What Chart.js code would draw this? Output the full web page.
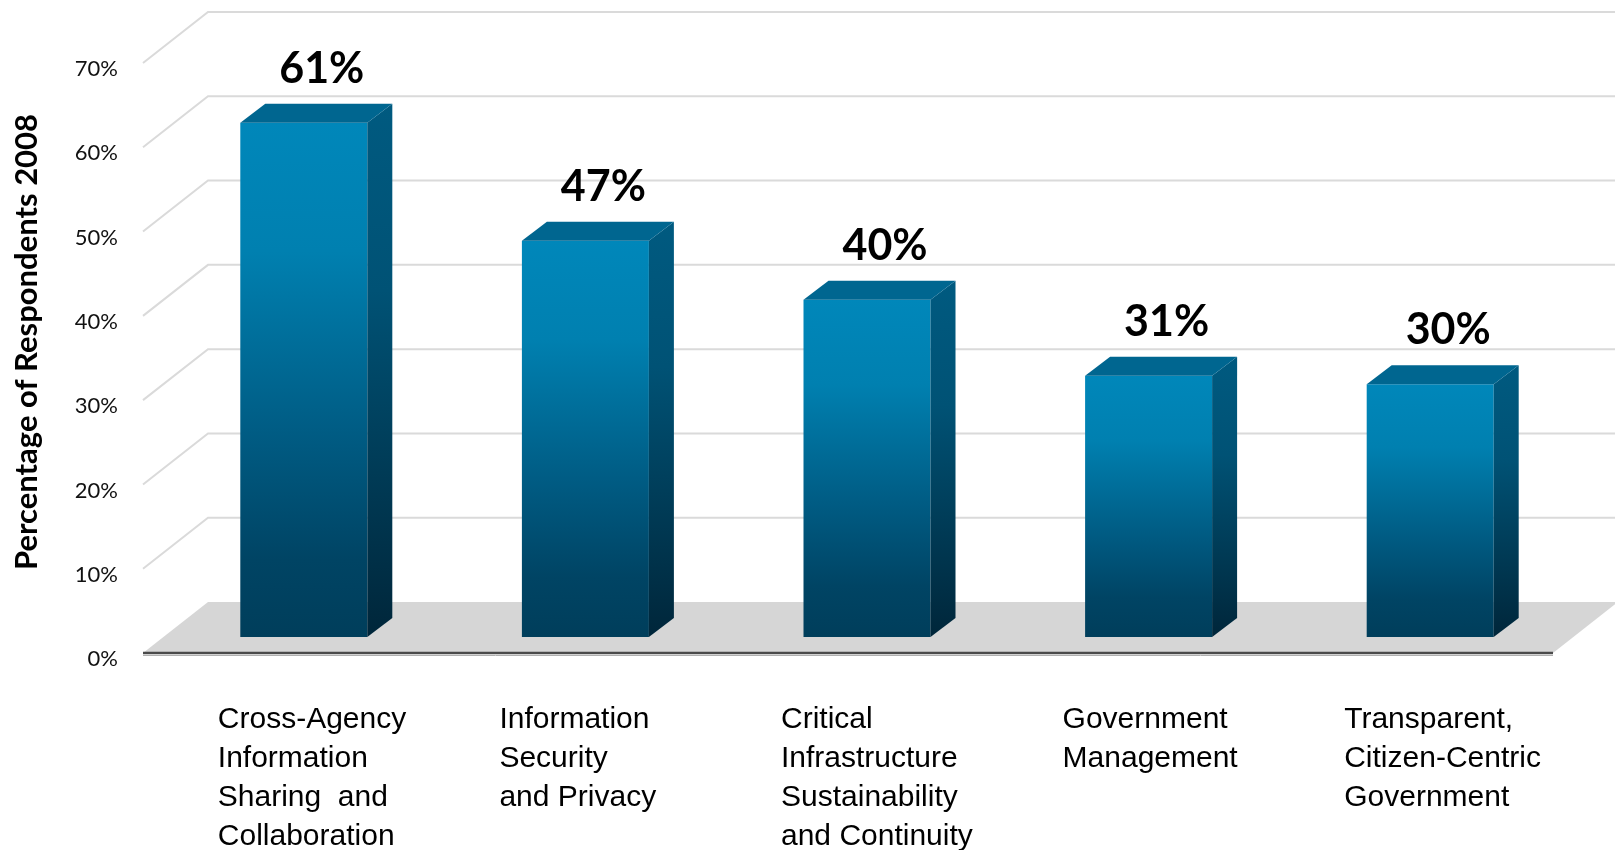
<!DOCTYPE html>
<html><head><meta charset="utf-8">
<script src="https://cdn.jsdelivr.net/npm/chart.js@4.4.1/dist/chart.umd.min.js"></script>
<style>html,body{margin:0;padding:0;background:#fff;}canvas{display:block;}</style>
</head><body>
<canvas id="c" width="1615" height="850"></canvas>
<script>
const categories = [
  ["Cross-Agency", "Information", "Sharing  and", "Collaboration"],
  ["Information", "Security", "and Privacy"],
  ["Critical", "Infrastructure", "Sustainability", "and Continuity"],
  ["Government", "Management"],
  ["Transparent,", "Citizen-Centric", "Government"]
];
const values = [61, 47, 40, 31, 30];
const yTicks = [0, 10, 20, 30, 40, 50, 60, 70];
const yTitle = "Percentage of Respondents 2008";

// 3D geometry offsets (pixels)
const FRONT = {dx: -20, dy: 16};
const BACK = {dx: 45, dy: -35};
const BAR_D = {dx: 25, dy: -19};

function frontGrad(c, top, base) {
  const g = c.createLinearGradient(0, top, 0, base);
  g.addColorStop(0, '#0087ba');
  g.addColorStop(0.25, '#0080b0');
  g.addColorStop(0.6, '#005c84');
  g.addColorStop(0.85, '#004464');
  g.addColorStop(1, '#003e5b');
  return g;
}
function sideGrad(c, top, base) {
  const g = c.createLinearGradient(0, top, 0, base);
  g.addColorStop(0, '#005a80');
  g.addColorStop(0.35, '#005275');
  g.addColorStop(1, '#00263a');
  return g;
}

const scene3d = {
  id: 'scene3d',
  beforeDatasetsDraw(chart) {
    const c = chart.ctx, a = chart.chartArea, ys = chart.scales.y;
    const y0 = ys.getPixelForValue(0);
    c.save();
    c.fillStyle = '#d6d6d6';
    c.beginPath();
    c.moveTo(a.left + FRONT.dx, y0 + FRONT.dy);
    c.lineTo(a.right + FRONT.dx + 2, y0 + FRONT.dy);
    c.lineTo(a.right + BACK.dx + 2, y0 + BACK.dy);
    c.lineTo(a.left + BACK.dx, y0 + BACK.dy);
    c.closePath();
    c.fill();
    c.strokeStyle = '#dadada';
    c.lineWidth = 2;
    ys.ticks.forEach(t => {
      if (t.value === 0) return;
      const y = ys.getPixelForValue(t.value);
      c.beginPath();
      c.moveTo(a.left + FRONT.dx, y + FRONT.dy);
      c.lineTo(a.left + BACK.dx, y + BACK.dy);
      c.lineTo(chart.width, y + BACK.dy);
      c.stroke();
    });
    c.strokeStyle = '#b0b0b0';
    c.lineWidth = 1;
    c.beginPath();
    c.moveTo(a.left + FRONT.dx, y0 + FRONT.dy + 2.5);
    c.lineTo(a.right + FRONT.dx + 2, y0 + FRONT.dy + 2.5);
    c.stroke();
    c.strokeStyle = '#4a4a4a';
    c.lineWidth = 2.5;
    c.beginPath();
    c.moveTo(a.left + FRONT.dx, y0 + FRONT.dy);
    c.lineTo(a.right + FRONT.dx + 2, y0 + FRONT.dy);
    c.stroke();
    c.restore();
  },
  afterDatasetsDraw(chart) {
    const c = chart.ctx;
    const meta = chart.getDatasetMeta(0);
    c.save();
    meta.data.forEach((el, i) => {
      const p = el.getProps(['x', 'y', 'base', 'width'], true);
      const L = p.x - p.width / 2, R = p.x + p.width / 2, T = p.y, B = p.base;
      c.fillStyle = sideGrad(c, T + BAR_D.dy, B);
      c.beginPath();
      c.moveTo(R, T);
      c.lineTo(R + BAR_D.dx, T + BAR_D.dy);
      c.lineTo(R + BAR_D.dx, B + BAR_D.dy);
      c.lineTo(R, B);
      c.closePath();
      c.fill();
      c.fillStyle = '#006690';
      c.beginPath();
      c.moveTo(L, T);
      c.lineTo(L + BAR_D.dx, T + BAR_D.dy);
      c.lineTo(R + BAR_D.dx, T + BAR_D.dy);
      c.lineTo(R, T);
      c.closePath();
      c.fill();
      c.fillStyle = '#000';
      c.font = 'bold 43px Lato';
      c.textAlign = 'center';
      c.textBaseline = 'alphabetic';
      c.fillText(values[i] + '%', p.x + 18, T - 40);
    });
    c.restore();
  }
};

function draw() {
  new Chart(document.getElementById('c'), {
    type: 'bar',
    data: {
      labels: categories,
      datasets: [{
        data: values,
        backgroundColor: (ctx) => {
          const ch = ctx.chart, ys = ch.scales && ch.scales.y;
          if (!ch.chartArea || !ys || ctx.type !== 'data') return '#0077a6';
          return frontGrad(ch.ctx, ys.getPixelForValue(ctx.raw), ys.getPixelForValue(0));
        },
        borderWidth: 0,
        barPercentage: 0.451,
        categoryPercentage: 1.0
      }]
    },
    options: {
      responsive: false,
      devicePixelRatio: 1,
      animation: false,
      layout: {padding: {left: 0, right: 44, top: 47, bottom: 0}},
      plugins: {legend: {display: false}, tooltip: {enabled: false}},
      scales: {
        x: {
          grid: {display: false, drawTicks: false},
          border: {display: false},
          ticks: {
            autoSkip: false, maxRotation: 0, minRotation: 0,
            align: 'start', labelOffset: -86, padding: 63,
            color: '#000',
            font: {family: '"Liberation Sans", Arial, sans-serif', size: 30, lineHeight: 1.3}
          },
          afterFit(s) { s.height = 213; s.paddingLeft = 0; s.paddingRight = 0; }
        },
        y: {
          min: 0, max: 70,
          grid: {display: false, drawTicks: false},
          border: {display: false},
          afterBuildTicks(s) { s.ticks = yTicks.map(v => ({value: v})); },
          ticks: {
            callback: v => v + '%',
            padding: 45, labelOffset: 22,
            color: '#111',
            font: {family: 'Lato, sans-serif', size: 22}
          },
          title: {
            display: true, text: yTitle, color: '#000',
            font: {family: 'Lato, sans-serif', size: 31, weight: 'bold'},
            padding: {top: 8, bottom: 0}
          },
          afterFit(s) { s.width = 163; s.paddingTop = 0; s.paddingBottom = 0; }
        }
      }
    },
    plugins: [scene3d]
  });
}
Promise.all([
  document.fonts.load('bold 43px Lato'),
  document.fonts.load('22px Lato'),
  document.fonts.load('30px "Liberation Sans"')
]).then(draw, draw);
</script>
</body></html>
